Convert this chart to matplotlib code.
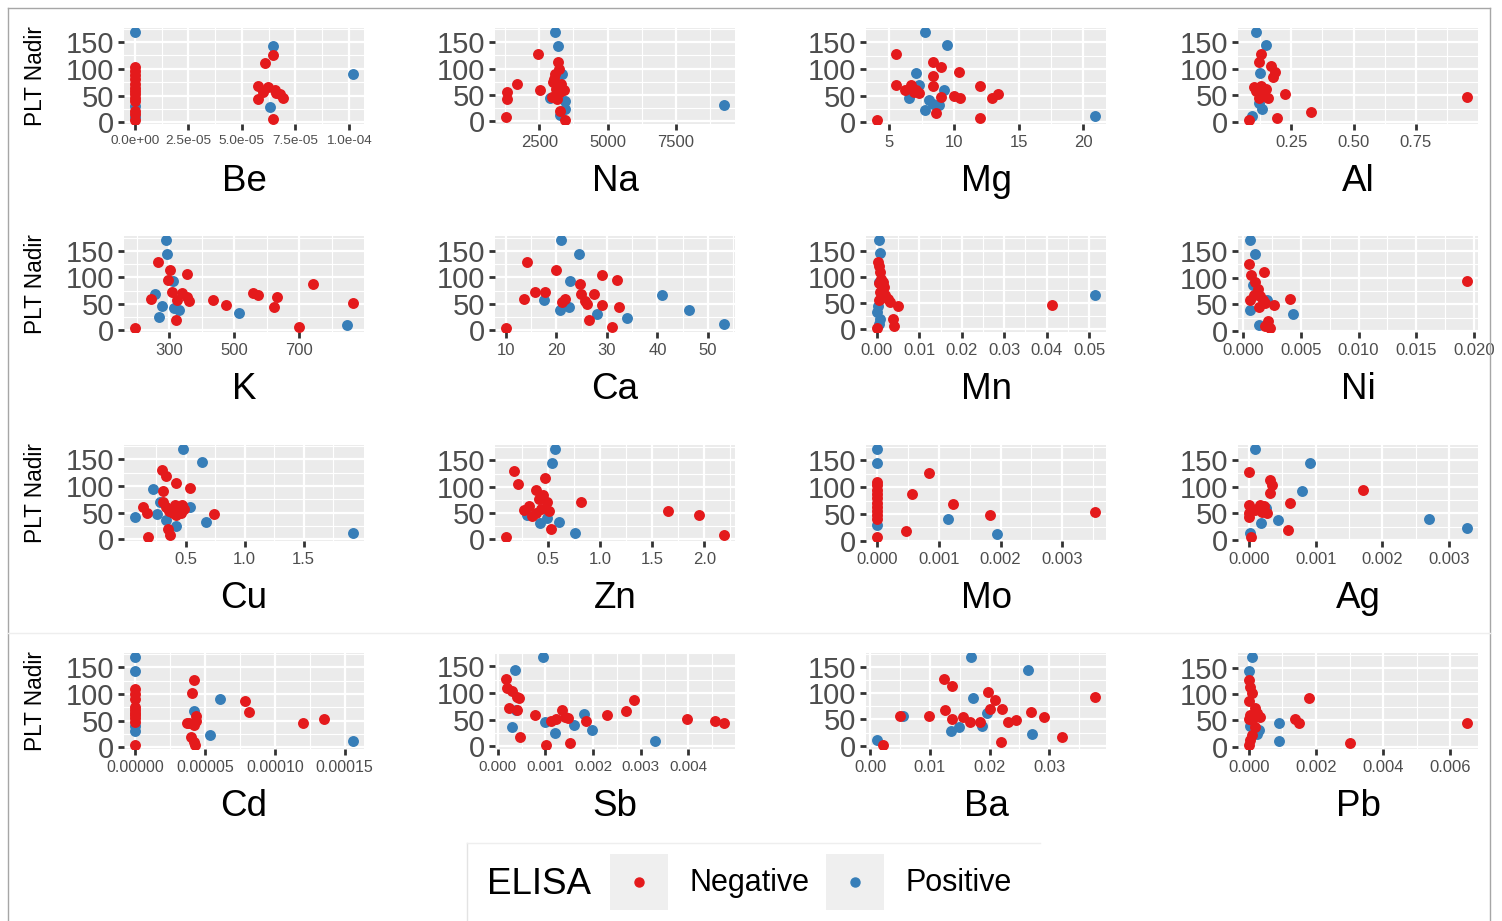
import numpy as np
import matplotlib
matplotlib.use("Agg")
import matplotlib.pyplot as plt
from matplotlib.lines import Line2D
from matplotlib.patches import Patch
from matplotlib.legend_handler import HandlerTuple, HandlerLine2D

plt.rcParams['font.family'] = ['Liberation Sans', 'DejaVu Sans']

RED = "#E41A1C"
BLUE = "#377EB8"

# ---------------- data (x = element concentration, y = PLT Nadir) ----------------
be_neg_x = [0, 0, 0, 0, 0, 0, 0, 0, 0, 0, 0, 0, 0, 5.76e-5, 5.76e-5, 6.1e-5, 6.45e-5, 6.2e-5, 6.55e-5, 6.8e-5, 6.9e-5, 6.45e-5, 5.98e-5, 6.6e-5]
be_neg_y = [103, 96, 88, 80, 72, 65, 58, 52, 46, 40, 22, 15, 5, 68, 44, 110, 126, 66, 60, 52, 46, 6, 56, 55]
be_pos_x = [0, 0, 0, 6.45e-5, 6.3e-5, 1.02e-4]
be_pos_y = [168, 30, 10, 143, 28, 90]

na_neg_x = [2465, 3200, 3220, 3080, 3000, 1670, 1320, 1320, 1280, 2520, 3100, 3250, 3400, 3150, 2950, 3260, 3440, 3300, 3050]
na_neg_y = [128, 113, 100, 90, 74, 70, 55, 42, 8, 60, 62, 55, 60, 42, 46, 19, 3, 70, 80]
na_pos_x = [3083, 3170, 3350, 2900, 3440, 3440, 3260, 9267]
na_pos_y = [169, 143, 90, 45, 39, 23, 11, 30]

mg_neg_x = [4.05, 5.5, 8.35, 9.0, 10.4, 8.35, 5.55, 6.2, 6.7, 7.1, 7.3, 6.9, 8.35, 9.0, 10.0, 10.45, 8.6, 12.0, 12.0, 12.9, 13.4]
mg_neg_y = [5, 128, 113, 103, 95, 87, 71, 60, 71, 61, 55, 56, 68, 48, 50, 45, 17, 69, 8, 45, 53]
mg_pos_x = [7.75, 9.47, 7.1, 6.5, 7.3, 8.1, 7.75, 8.4, 8.85, 9.2, 20.9]
mg_pos_y = [169, 145, 92, 45, 71, 42, 24, 34, 32, 61, 11]

al_neg_x = [0.129, 0.119, 0.168, 0.184, 0.178, 0.109, 0.129, 0.139, 0.148, 0.158, 0.119, 0.10, 0.225, 0.08, 0.191, 0.33, 0.955]
al_neg_y = [128, 113, 105, 94, 84, 58, 68, 52, 62, 45, 45, 65, 52, 4, 8, 18, 46]
al_pos_x = [0.109, 0.148, 0.123, 0.119, 0.133, 0.094]
al_pos_y = [169, 145, 92, 35, 24, 10]

k_neg_x = [265, 303, 295, 353, 308, 338, 323, 353, 360, 244, 320, 436, 474, 557, 572, 632, 622, 700, 742, 866, 194]
k_neg_y = [129, 114, 95, 106, 72, 71, 58, 62, 56, 60, 20, 57, 47, 70, 67, 62, 44, 7, 88, 52, 5]
k_pos_x = [289, 292, 312, 255, 277, 267, 315, 330, 516, 848]
k_pos_y = [170, 145, 93, 69, 46, 25, 42, 39, 33, 10]

ca_neg_x = [10, 14.2, 20.0, 24.6, 29.1, 32.0, 15.7, 17.8, 13.5, 21.7, 21.2, 24.8, 25.6, 26.1, 27.4, 26.4, 29.0, 31.0, 32.4]
ca_neg_y = [5, 129, 114, 87, 105, 95, 72, 72, 59, 60, 54, 69, 56, 49, 69, 20, 48, 7, 44]
ca_pos_x = [20.9, 24.4, 22.7, 17.5, 20.7, 22.5, 28.0, 33.9, 41.0, 46.3, 53.2]
ca_pos_y = [170, 145, 93, 58, 39, 44, 31, 24, 67, 39, 11]

mn_neg_x = [0.0002, 0.0006, 0.0008, 0.0010, 0.0014, 0.0017, 0.0008, 0.0020, 0.0025, 0.0006, 0.0031, 0.0049, 0.0037, 0.0040, 0.0, 0.0012, 0.0005, 0.0412]
mn_neg_y = [129, 120, 110, 97, 91, 81, 71, 65, 58, 55, 52, 45, 19, 6, 3, 62, 88, 46]
mn_pos_x = [0.0006, 0.0008, 0.0006, 0.0, 0.0008, 0.0006, 0.0002, 0.0514]
mn_pos_y = [170, 145, 90, 32, 19, 10, 45, 66]

ni_neg_x = [0.00051, 0.00184, 0.00073, 0.00107, 0.00128, 0.00098, 0.00150, 0.00171, 0.00064, 0.00192, 0.00141, 0.0027, 0.0041, 0.00214, 0.00235, 0.00192, 0.0194]
ni_neg_y = [126, 111, 104, 91, 78, 68, 65, 57, 57, 52, 45, 49, 60, 19, 6, 10, 94]
ni_pos_x = [0.00064, 0.00107, 0.00085, 0.0021, 0.00064, 0.0043, 0.0014]
ni_pos_y = [170, 145, 87, 57, 39, 32, 11]

cu_neg_x = [0.30, 0.33, 0.42, 0.54, 0.31, 0.31, 0.33, 0.36, 0.41, 0.44, 0.47, 0.46, 0.42, 0.49, 0.39, 0.14, 0.17, 0.35, 0.37, 0.18, 0.74]
cu_neg_y = [130, 119, 105, 96, 90, 70, 60, 54, 65, 57, 65, 50, 45, 57, 49, 60, 50, 19, 8, 5, 47]
cu_pos_x = [0.48, 0.64, 0.22, 0.28, 0.26, 0.33, 0.54, 0.42, 0.67, 1.92, 0.07]
cu_pos_y = [169, 146, 94, 70, 47, 37, 60, 25, 33, 12, 42]

zn_neg_x = [0.18, 0.22, 0.47, 0.39, 0.46, 0.42, 0.49, 0.32, 0.44, 0.27, 0.39, 0.51, 0.35, 0.53, 0.10, 0.82, 1.65, 1.95, 2.19]
zn_neg_y = [130, 106, 117, 93, 84, 76, 70, 63, 58, 55, 50, 54, 44, 20, 5, 70, 54, 47, 9]
zn_pos_x = [0.57, 0.54, 0.30, 0.49, 0.43, 0.61, 0.76]
zn_pos_y = [171, 146, 47, 40, 31, 32, 12]

mo_neg_x = [0, 0, 0, 0, 0, 0, 0, 0, 0, 0, 0, 0.00085, 0.00057, 0.00123, 0.00047, 0.00183, 0.00353]
mo_neg_y = [110, 103, 95, 88, 80, 70, 63, 55, 48, 40, 8, 127, 88, 68, 19, 49, 53]
mo_pos_x = [0, 0, 0, 0.00115, 0.00194]
mo_pos_y = [170, 145, 30, 41, 12]

ag_neg_x = [0, 0.00031, 0.00034, 0.00031, 0.00171, 0.00061, 0, 0, 0, 0.00016, 0.0002, 0.00012, 0.00023, 0.00027, 0.00009, 0.00059, 0.00003]
ag_neg_y = [128, 113, 103, 88, 94, 70, 66, 50, 43, 66, 53, 58, 64, 51, 56, 19, 6]
ag_pos_x = [0.00009, 0.00091, 0.0008, 0.00025, 0.00018, 0.00044, 0.00001, 0.0027, 0.00327]
ag_pos_y = [170, 145, 92, 60, 31, 37, 13, 40, 23]

cd_neg_x = [0, 0, 0, 0, 0, 0, 0, 0, 0, 0, 4.2e-5, 4.1e-5, 4.4e-5, 4.4e-5, 3.85e-5, 4.2e-5, 3.7e-5, 4.0e-5, 4.2e-5, 4.3e-5, 7.9e-5, 8.15e-5, 1.2e-4, 1.35e-4]
cd_neg_y = [110, 100, 90, 75, 70, 65, 60, 55, 48, 5, 126, 102, 58, 50, 46, 42, 45, 19, 10, 5, 87, 66, 45, 53]
cd_pos_x = [0, 0, 0, 0, 6.05e-5, 4.2e-5, 5.4e-5, 1.56e-4]
cd_pos_y = [169, 143, 40, 30, 90, 68, 23, 11]

sb_neg_x = [0.00017, 0.00019, 0.0003, 0.0004, 0.00044, 0.00023, 0.0004, 0.00046, 0.00079, 0.00101, 0.00123, 0.00134, 0.00141, 0.00148, 0.00112, 0.00151, 0.00186, 0.00229, 0.00269, 0.00286, 0.00398, 0.00455, 0.00475]
sb_neg_y = [126, 109, 103, 93, 90, 71, 69, 18, 58, 3, 52, 68, 55, 53, 48, 6, 47, 58, 66, 87, 52, 48, 44]
sb_pos_x = [0.00094, 0.00036, 0.00039, 0.0003, 0.001, 0.00121, 0.0016, 0.00181, 0.00198, 0.0033]
sb_pos_y = [167, 144, 68, 37, 45, 24, 40, 60, 31, 10]

ba_neg_x = [0.0124, 0.0137, 0.0197, 0.0209, 0.0377, 0.0201, 0.0221, 0.0126, 0.0269, 0.005, 0.0098, 0.0137, 0.0155, 0.0167, 0.0184, 0.0231, 0.0244, 0.0291, 0.0321, 0.0219, 0.0021]
ba_neg_y = [126, 113, 102, 87, 92, 70, 69, 67, 64, 57, 56, 51, 54, 46, 45, 45, 48, 54, 17, 7, 2]
ba_pos_x = [0.0168, 0.0264, 0.0172, 0.0055, 0.0195, 0.0188, 0.0135, 0.0149, 0.0271, 0.0011]
ba_pos_y = [168, 144, 90, 56, 62, 38, 28, 35, 22, 10]

pb_neg_x = [0, 0.00003, 0.0001, 0, 0.00018, 0.00003, 0.00025, 0.00032, 0.0001, 0, 0.00018, 0.0001, 0.00003, 0, 0.00138, 0.0015, 0.0018, 0.003, 0.0065]
pb_neg_y = [126, 113, 103, 87, 74, 61, 64, 57, 50, 52, 37, 22, 12, 4, 52, 46, 92, 7, 46]
pb_pos_x = [0.0001, 0, 0.00003, 0.0003, 0.00025, 0.0009, 0.0009]
pb_pos_y = [170, 144, 39, 31, 25, 46, 10]

# x-axis tick values and labels for each element
be_ticks = [0, 2.5e-5, 5e-5, 7.5e-5, 1e-4]
be_labels = ["0.0e+00", "2.5e-05", "5.0e-05", "7.5e-05", "1.0e-04"]
na_ticks = [2500, 5000, 7500]
na_labels = ["2500", "5000", "7500"]
mg_ticks = [5, 10, 15, 20]
mg_labels = ["5", "10", "15", "20"]
al_ticks = [0.25, 0.5, 0.75]
al_labels = ["0.25", "0.50", "0.75"]
k_ticks = [300, 500, 700]
k_labels = ["300", "500", "700"]
ca_ticks = [10, 20, 30, 40, 50]
ca_labels = ["10", "20", "30", "40", "50"]
mn_ticks = [0, 0.01, 0.02, 0.03, 0.04, 0.05]
mn_labels = ["0.00", "0.01", "0.02", "0.03", "0.04", "0.05"]
ni_ticks = [0, 0.005, 0.01, 0.015, 0.02]
ni_labels = ["0.000", "0.005", "0.010", "0.015", "0.020"]
cu_ticks = [0.5, 1.0, 1.5]
cu_labels = ["0.5", "1.0", "1.5"]
zn_ticks = [0.5, 1.0, 1.5, 2.0]
zn_labels = ["0.5", "1.0", "1.5", "2.0"]
mo_ticks = [0, 0.001, 0.002, 0.003]
mo_labels = ["0.000", "0.001", "0.002", "0.003"]
ag_ticks = [0, 0.001, 0.002, 0.003]
ag_labels = ["0.000", "0.001", "0.002", "0.003"]
cd_ticks = [0, 5e-5, 1e-4, 1.5e-4]
cd_labels = ["0.00000", "0.00005", "0.00010", "0.00015"]
sb_ticks = [0, 0.001, 0.002, 0.003, 0.004]
sb_labels = ["0.000", "0.001", "0.002", "0.003", "0.004"]
ba_ticks = [0, 0.01, 0.02, 0.03]
ba_labels = ["0.00", "0.01", "0.02", "0.03"]
pb_ticks = [0, 0.002, 0.004, 0.006]
pb_labels = ["0.000", "0.002", "0.004", "0.006"]

y_ticks = [0, 50, 100, 150]
y_labels = ["0", "50", "100", "150"]
legend_labels = ["Negative", "Positive"]
legend_title = "ELISA"
y_title = "PLT Nadir"

panels = [
    ("Be", be_neg_x, be_neg_y, be_pos_x, be_pos_y, be_ticks, be_labels, 9.7),
    ("Na", na_neg_x, na_neg_y, na_pos_x, na_pos_y, na_ticks, na_labels, 12),
    ("Mg", mg_neg_x, mg_neg_y, mg_pos_x, mg_pos_y, mg_ticks, mg_labels, 12),
    ("Al", al_neg_x, al_neg_y, al_pos_x, al_pos_y, al_ticks, al_labels, 12),
    ("K", k_neg_x, k_neg_y, k_pos_x, k_pos_y, k_ticks, k_labels, 12),
    ("Ca", ca_neg_x, ca_neg_y, ca_pos_x, ca_pos_y, ca_ticks, ca_labels, 12),
    ("Mn", mn_neg_x, mn_neg_y, mn_pos_x, mn_pos_y, mn_ticks, mn_labels, 12),
    ("Ni", ni_neg_x, ni_neg_y, ni_pos_x, ni_pos_y, ni_ticks, ni_labels, 12),
    ("Cu", cu_neg_x, cu_neg_y, cu_pos_x, cu_pos_y, cu_ticks, cu_labels, 12),
    ("Zn", zn_neg_x, zn_neg_y, zn_pos_x, zn_pos_y, zn_ticks, zn_labels, 12),
    ("Mo", mo_neg_x, mo_neg_y, mo_pos_x, mo_pos_y, mo_ticks, mo_labels, 12),
    ("Ag", ag_neg_x, ag_neg_y, ag_pos_x, ag_pos_y, ag_ticks, ag_labels, 12),
    ("Cd", cd_neg_x, cd_neg_y, cd_pos_x, cd_pos_y, cd_ticks, cd_labels, 11.5),
    ("Sb", sb_neg_x, sb_neg_y, sb_pos_x, sb_pos_y, sb_ticks, sb_labels, 11),
    ("Ba", ba_neg_x, ba_neg_y, ba_pos_x, ba_pos_y, ba_ticks, ba_labels, 12),
    ("Pb", pb_neg_x, pb_neg_y, pb_pos_x, pb_pos_y, pb_ticks, pb_labels, 12),
]

# ---------------- layout ----------------
W, H = 1502, 921
fig = plt.figure(figsize=(W / 100, H / 100), dpi=100)
fig.patch.set_facecolor("white")


def fx(px):
    return px / W


def fy(py):
    return 1 - py / H


col_left = [124, 495, 866, 1238]
row_top = [28, 236, 445, 653]
PW, PH = 240, 96
LABEL_BASELINE = 67  # px below panel bottom

for i, (name, nx, ny, px_, py_, ticks, tlabels, tfs) in enumerate(panels):
    r, c = divmod(i, 4)
    L, T = col_left[c], row_top[r]
    ax = fig.add_axes([fx(L), fy(T + PH), PW / W, PH / H])
    ax.set_facecolor("#EBEBEB")
    ax.scatter(px_, py_, s=62, color=BLUE, linewidths=0, zorder=3)
    ax.scatter(nx, ny, s=62, color=RED, linewidths=0, zorder=3)
    ax.margins(0.05)
    xl = ax.get_xlim()
    yl = ax.get_ylim()

    t = np.array(ticks, dtype=float)
    step = t[1] - t[0]
    minor = np.concatenate([[t[0] - step / 2], (t[:-1] + t[1:]) / 2, [t[-1] + step / 2]])
    ax.set_xticks(t)
    ax.set_xticklabels(tlabels, fontsize=tfs, color="#4D4D4D")
    ax.set_xticks(minor, minor=True)
    ax.set_yticks(y_ticks)
    ax.set_yticklabels(y_labels, fontsize=21, color="#4D4D4D")
    ax.set_yticks([25, 75, 125, 175], minor=True)
    ax.set_xlim(xl)
    ax.set_ylim(yl)

    ax.grid(which="major", color="white", linewidth=1.6)
    ax.grid(which="minor", color="white", linewidth=0.8)
    ax.set_axisbelow(True)
    for sp in ax.spines.values():
        sp.set_visible(False)
    ax.tick_params(which="major", length=4, width=2, color="#333333")
    ax.tick_params(axis="x", which="major", pad=4)
    ax.tick_params(axis="y", which="major", pad=3)
    ax.tick_params(which="minor", length=0)

    ax.set_xlabel(name, fontsize=26.5, va="baseline")
    ax.xaxis.set_label_coords(0.5, -LABEL_BASELINE / PH)
    if c == 0:
        ax.set_ylabel(y_title, fontsize=16.3, va="center", ha="center")
        ax.yaxis.set_label_coords((35 - L) / PW, 0.5)


# ---------------- legend ----------------
class CenteredMarker(HandlerLine2D):
    """Marker centred on the grey key square."""

    def create_artists(self, legend, orig_handle, xdescent, ydescent,
                       width, height, fontsize, trans):
        arts = super().create_artists(legend, orig_handle, xdescent, ydescent,
                                      width, height, fontsize, trans)
        for a in arts:
            a.set_ydata(np.asarray(a.get_ydata(), float) - ydescent / 2)
        return arts


fig.text(fx(487), fy(884), legend_title, fontsize=26.5, ha="left", va="center")
handles = [
    (Patch(facecolor="#EFEFEF", edgecolor="none"),
     Line2D([], [], marker="o", linestyle="", color=RED, markersize=6.5)),
    (Patch(facecolor="#EFEFEF", edgecolor="none"),
     Line2D([], [], marker="o", linestyle="", color=BLUE, markersize=6.5)),
]
fig.legend(handles, legend_labels,
           handler_map={tuple: HandlerTuple(ndivide=1), Line2D: CenteredMarker()},
           loc="center left", bbox_to_anchor=(fx(610), fy(882)), ncol=2,
           frameon=False, fontsize=22, handlelength=1.9, handleheight=2.4,
           handletextpad=0.7, columnspacing=0.55, borderpad=0, borderaxespad=0)

# ---------------- decorations (image borders) ----------------
border = "#A6A6A6"
fig.add_artist(Line2D([fx(8), fx(1490)], [fy(8), fy(8)], transform=fig.transFigure, color=border, lw=1))
fig.add_artist(Line2D([fx(8), fx(8)], [fy(8), 0], transform=fig.transFigure, color=border, lw=1))
fig.add_artist(Line2D([fx(1490), fx(1490)], [fy(8), 0], transform=fig.transFigure, color=border, lw=1))
fig.add_artist(Line2D([fx(8), fx(1490)], [fy(633), fy(633)], transform=fig.transFigure, color="#EEEEEE", lw=1))
fig.add_artist(Line2D([fx(467), fx(467)], [fy(843), 0], transform=fig.transFigure, color="#E3E3E3", lw=1))
fig.add_artist(Line2D([fx(467), fx(1040)], [fy(843), fy(843)], transform=fig.transFigure, color="#EEEEEE", lw=1))

fig.savefig("out.png", dpi=100)
